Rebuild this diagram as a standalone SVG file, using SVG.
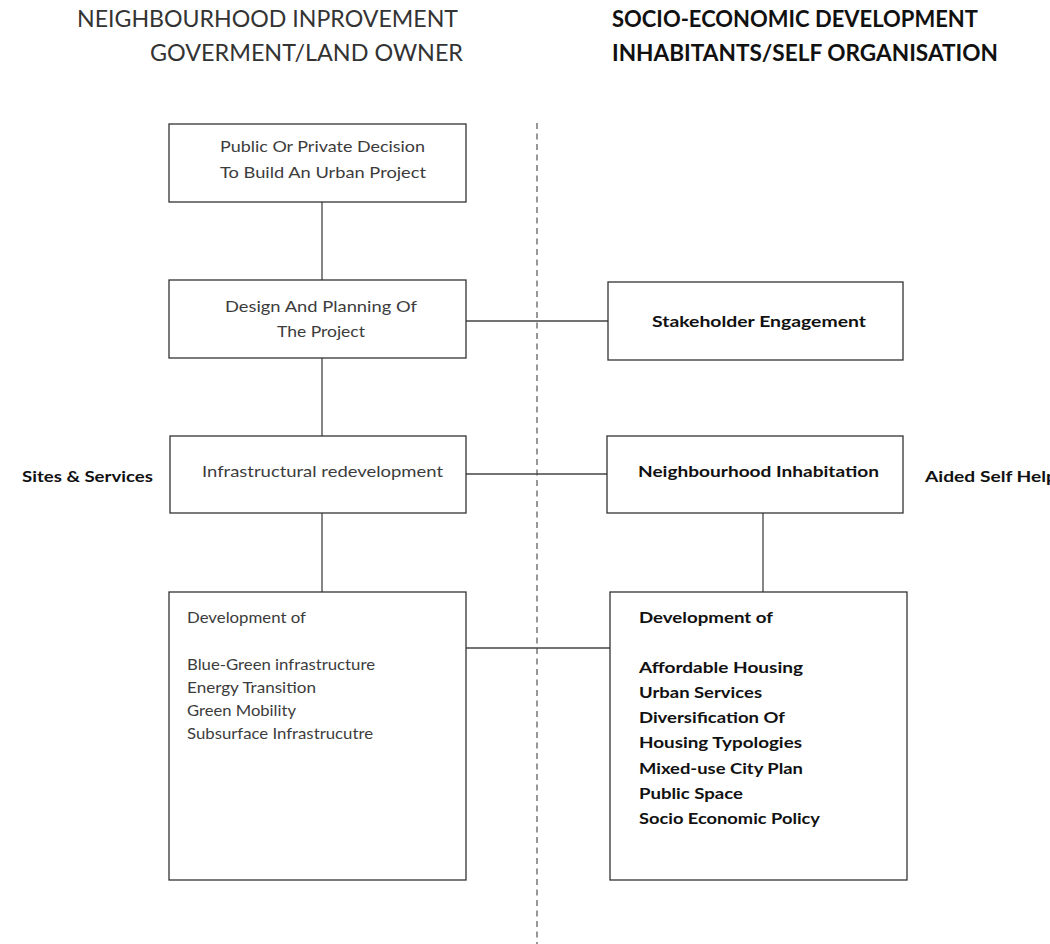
<svg xmlns="http://www.w3.org/2000/svg" width="1050" height="944" viewBox="0 0 1050 944">
<style>
.box{fill:#fff;stroke:#333;stroke-width:1.3}
.ln{stroke:#444;stroke-width:1.3;fill:none}
.dash{stroke:#777;stroke-width:1.5;stroke-dasharray:6 4.5;fill:none}
.t{font-family:Lato,"Open Sans","Liberation Sans",sans-serif;font-size:16px;fill:#3c3c3c}
.b{font-family:Lato,"Open Sans","Liberation Sans",sans-serif;font-size:16px;font-weight:bold;fill:#111}
.h{font-family:Lato,"Open Sans","Liberation Sans",sans-serif;font-size:23px;fill:#333}
.hb{font-family:Lato,"Open Sans","Liberation Sans",sans-serif;font-size:22px;font-weight:bold;fill:#111}
.c{text-anchor:middle}
</style>
<rect width="1050" height="944" fill="#fff"/>
<g id="headers">
<text class="h" x="77" y="27" textLength="381" lengthAdjust="spacingAndGlyphs">NEIGHBOURHOOD INPROVEMENT</text>
<text class="h" x="150" y="61" textLength="313" lengthAdjust="spacingAndGlyphs">GOVERMENT/LAND OWNER</text>
<text class="hb" x="612" y="27" textLength="366" lengthAdjust="spacingAndGlyphs">SOCIO-ECONOMIC DEVELOPMENT</text>
<text class="hb" x="612" y="61" textLength="386" lengthAdjust="spacingAndGlyphs">INHABITANTS/SELF ORGANISATION</text>
</g>
<g id="divider"><line class="dash" x1="537" y1="123" x2="537" y2="944"/></g>
<g id="connectors">
<line class="ln" x1="322" y1="202" x2="322" y2="280"/>
<line class="ln" x1="322" y1="358" x2="322" y2="436"/>
<line class="ln" x1="322" y1="513" x2="322" y2="592"/>
<line class="ln" x1="466" y1="321" x2="608" y2="321"/>
<line class="ln" x1="466" y1="474" x2="607" y2="474"/>
<line class="ln" x1="466" y1="648" x2="610" y2="648"/>
<line class="ln" x1="763" y1="513" x2="763" y2="592"/>
</g>
<g id="decision">
<rect class="box" x="169" y="124" width="297" height="78"/>
<text class="t" x="220" y="152" textLength="205" lengthAdjust="spacingAndGlyphs">Public Or Private Decision</text>
<text class="t" x="220" y="178" textLength="206" lengthAdjust="spacingAndGlyphs">To Build An Urban Project</text>
</g>
<g id="design">
<rect class="box" x="169" y="280" width="297" height="78"/>
<text class="t" x="225" y="312" textLength="192" lengthAdjust="spacingAndGlyphs">Design And Planning Of</text>
<text class="t" x="277" y="337" textLength="88" lengthAdjust="spacingAndGlyphs">The Project</text>
</g>
<g id="stakeholder">
<rect class="box" x="608" y="282" width="295" height="78"/>
<text class="b" x="652" y="327" textLength="214" lengthAdjust="spacingAndGlyphs">Stakeholder Engagement</text>
</g>
<g id="infra">
<rect class="box" x="170" y="436" width="296" height="77"/>
<text class="t" x="202" y="477" textLength="241" lengthAdjust="spacingAndGlyphs">Infrastructural redevelopment</text>
</g>
<g id="sites-label">
<text class="b" x="22" y="482" textLength="131" lengthAdjust="spacingAndGlyphs">Sites &amp; Services</text>
</g>
<g id="inhabitation">
<rect class="box" x="607" y="436" width="296" height="77"/>
<text class="b" x="638" y="477" textLength="241" lengthAdjust="spacingAndGlyphs">Neighbourhood Inhabitation</text>
</g>
<g id="aided-label">
<text class="b" x="925" y="482" textLength="132" lengthAdjust="spacingAndGlyphs">Aided Self Help</text>
</g>
<g id="dev-left">
<rect class="box" x="169" y="592" width="297" height="288"/>
<text class="t" x="187" y="623" textLength="119" lengthAdjust="spacingAndGlyphs">Development of</text>
<text class="t" x="187" y="670" textLength="188" lengthAdjust="spacingAndGlyphs">Blue-Green infrastructure</text>
<text class="t" x="187" y="693" textLength="129" lengthAdjust="spacingAndGlyphs">Energy Transition</text>
<text class="t" x="187" y="716" textLength="109" lengthAdjust="spacingAndGlyphs">Green Mobility</text>
<text class="t" x="187" y="739" textLength="186" lengthAdjust="spacingAndGlyphs">Subsurface Infrastrucutre</text>
</g>
<g id="dev-right">
<rect class="box" x="610" y="592" width="297" height="288"/>
<text class="b" x="639" y="623" textLength="134" lengthAdjust="spacingAndGlyphs">Development of</text>
<text class="b" x="639" y="673" textLength="164" lengthAdjust="spacingAndGlyphs">Affordable Housing</text>
<text class="b" x="639" y="698" textLength="123" lengthAdjust="spacingAndGlyphs">Urban Services</text>
<text class="b" x="639" y="723" textLength="146" lengthAdjust="spacingAndGlyphs">Diversification Of</text>
<text class="b" x="639" y="748" textLength="163" lengthAdjust="spacingAndGlyphs">Housing Typologies</text>
<text class="b" x="639" y="774" textLength="164" lengthAdjust="spacingAndGlyphs">Mixed-use City Plan</text>
<text class="b" x="639" y="799" textLength="104" lengthAdjust="spacingAndGlyphs">Public Space</text>
<text class="b" x="639" y="824" textLength="181" lengthAdjust="spacingAndGlyphs">Socio Economic Policy</text>
</g>
</svg>
